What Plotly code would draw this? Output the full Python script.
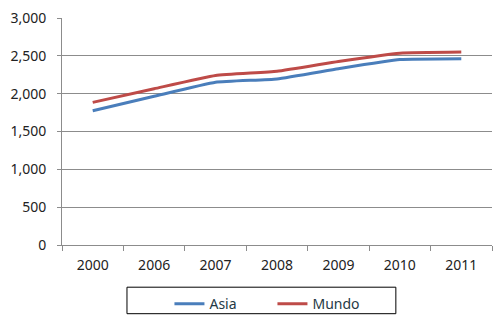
import plotly.graph_objects as go

# Categories and series values
years = ["2000", "2006", "2007", "2008", "2009", "2010", "2011"]
asia = [1775, 1965, 2150, 2195, 2330, 2450, 2462]
mundo = [1885, 2065, 2240, 2295, 2425, 2535, 2550]
y_ticks = [0, 500, 1000, 1500, 2000, 2500, 3000]

fig = go.Figure()
fig.add_trace(go.Scatter(x=years, y=asia, name="Asia", mode="lines",
                         line=dict(color="#4A7EBB", width=3, shape="spline", smoothing=0.4)))
fig.add_trace(go.Scatter(x=years, y=mundo, name="Mundo", mode="lines",
                         line=dict(color="#BE4B48", width=3, shape="spline", smoothing=0.4)))

# Border around the legend
fig.add_shape(type="rect", xref="paper", yref="paper",
              x0=(126.5 - 61.5) / 430.2, x1=(395.5 - 61.5) / 430.2,
              y0=(246 - 316) / 231.3, y1=(246 - 289) / 231.3,
              line=dict(color="black", width=1), fillcolor="rgba(0,0,0,0)")

fig.update_layout(
    width=500, height=329,
    margin=dict(l=61.5, r=8.3, t=14.7, b=83),
    paper_bgcolor="white", plot_bgcolor="white",
    font=dict(family="Noto Sans", size=14, color="#222222"),
    showlegend=True,
    legend=dict(orientation="h", x=(174 - 61.5 - 5) / 430.2, xanchor="left",
                y=(246 - 290) / 231.3, yanchor="top",
                font=dict(size=14, color="#253a45"), entrywidth=58,
                bgcolor="rgba(0,0,0,0)", borderwidth=0),
    xaxis=dict(type="category", range=[-0.5, len(years) - 0.5], showgrid=False,
               showline=True, linecolor="#8c8c8c",
               ticks="outside", tickson="boundaries", ticklen=5, tickcolor="#8c8c8c",
               ticklabelstandoff=7,
               tickfont=dict(size=14, color="#222222"), fixedrange=True),
    yaxis=dict(range=[0, 3000], tickvals=y_ticks, tickformat=",d",
               showgrid=True, gridcolor="#8c8c8c", gridwidth=1,
               showline=True, linecolor="#8c8c8c", zeroline=False,
               ticks="outside", ticklen=4, tickcolor="#8c8c8c",
               ticklabelstandoff=8,
               tickfont=dict(size=14, color="#222222")),
)

fig.write_html("out.html")
